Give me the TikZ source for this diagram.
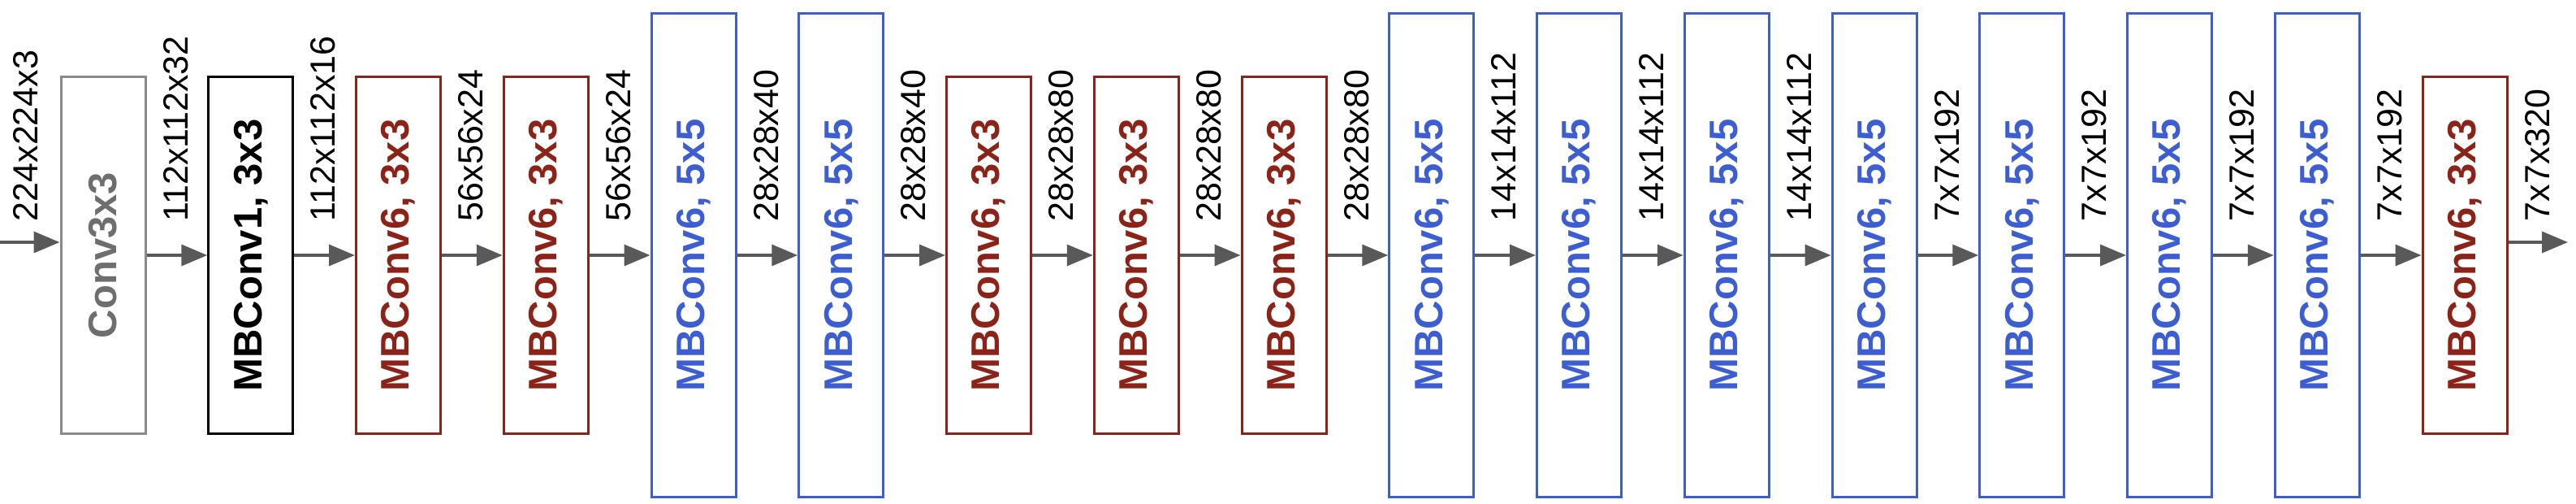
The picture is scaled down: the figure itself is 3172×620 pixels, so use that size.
\documentclass[tikz,border=0pt]{standalone}
\usepackage{fontspec}
\setmainfont{Liberation Sans}
\usetikzlibrary{arrows.meta}
\definecolor{redb}{HTML}{8B2318}
\definecolor{blueb}{HTML}{3C5ED2}
\definecolor{grayb}{HTML}{8A8A8A}
\definecolor{grayt}{HTML}{6E6E6E}
\definecolor{arrowc}{HTML}{595959}
\begin{document}
\begin{tikzpicture}[x=0.25pt,y=-0.25pt,
  box/.style={draw, line width=0.75pt, rotate=90, inner sep=0pt, minimum height=26pt,
    font=\bfseries\fontsize{12.25}{14}\selectfont},
  short/.style={box, minimum width=109.5pt},
  tall/.style={box, minimum width=148.75pt},
  gbox/.style={short, draw=grayb, text=grayt},
  kbox/.style={short, draw=black, text=black},
  rbox/.style={short, draw=redb, text=redb},
  bbox/.style={tall, draw=blueb, text=blueb},
  lbl/.style={rotate=90, anchor=base west, inner sep=0pt, font=\fontsize{10.75}{12}\selectfont},
  arr/.style={draw=arrowc, line width=0.9pt, -{Triangle[length=8pt,width=6.5pt]}}]
\useasboundingbox (0,0) rectangle (3172,620);
% blocks
\node[gbox] (c0) at (127,314) {Conv3x3};
\node[kbox] (c1) at (308.75,314) {MBConv1, 3x3};
\node[rbox] (c2) at (490.5,314) {MBConv6, 3x3};
\node[rbox] (c3) at (672.25,314) {MBConv6, 3x3};
\node[bbox] (c4) at (854,314) {MBConv6, 5x5};
\node[bbox] (c5) at (1035.75,314) {MBConv6, 5x5};
\node[rbox] (c6) at (1217.5,314) {MBConv6, 3x3};
\node[rbox] (c7) at (1399.25,314) {MBConv6, 3x3};
\node[rbox] (c8) at (1581,314) {MBConv6, 3x3};
\node[bbox] (c9) at (1762.75,314) {MBConv6, 5x5};
\node[bbox] (c10) at (1944.5,314) {MBConv6, 5x5};
\node[bbox] (c11) at (2126.25,314) {MBConv6, 5x5};
\node[bbox] (c12) at (2308,314) {MBConv6, 5x5};
\node[bbox] (c13) at (2489.75,314) {MBConv6, 5x5};
\node[bbox] (c14) at (2671.5,314) {MBConv6, 5x5};
\node[bbox] (c15) at (2853.25,314) {MBConv6, 5x5};
\node[rbox] (c16) at (3035,314) {MBConv6, 3x3};
% labels
\node[lbl] (l0) at (47,273) {224x224x3};
\node[lbl] (l1) at (231,273) {112x112x32};
\node[lbl] (l2) at (412.75,273) {112x112x16};
\node[lbl] (l3) at (594.5,273) {56x56x24};
\node[lbl] (l4) at (776.25,273) {56x56x24};
\node[lbl] (l5) at (958,273) {28x28x40};
\node[lbl] (l6) at (1139.75,273) {28x28x40};
\node[lbl] (l7) at (1321.5,273) {28x28x80};
\node[lbl] (l8) at (1503.25,273) {28x28x80};
\node[lbl] (l9) at (1685,273) {28x28x80};
\node[lbl] (l10) at (1866.75,273) {14x14x112};
\node[lbl] (l11) at (2048.5,273) {14x14x112};
\node[lbl] (l12) at (2230.25,273) {14x14x112};
\node[lbl] (l13) at (2412,273) {7x7x192};
\node[lbl] (l14) at (2593.75,273) {7x7x192};
\node[lbl] (l15) at (2775.5,273) {7x7x192};
\node[lbl] (l16) at (2957.25,273) {7x7x192};
\node[lbl] (l17) at (3139,273) {7x7x320};
% connectors
\coordinate (in) at (0,298);
\coordinate (out) at (3162,298);
\draw[arr] (in) -- (in -| c0.north);
\draw[arr] (c0) -- (c1);
\draw[arr] (c1) -- (c2);
\draw[arr] (c2) -- (c3);
\draw[arr] (c3) -- (c4);
\draw[arr] (c4) -- (c5);
\draw[arr] (c5) -- (c6);
\draw[arr] (c6) -- (c7);
\draw[arr] (c7) -- (c8);
\draw[arr] (c8) -- (c9);
\draw[arr] (c9) -- (c10);
\draw[arr] (c10) -- (c11);
\draw[arr] (c11) -- (c12);
\draw[arr] (c12) -- (c13);
\draw[arr] (c13) -- (c14);
\draw[arr] (c14) -- (c15);
\draw[arr] (c15) -- (c16);
\draw[arr] (out -| c16.south) -- (out);
\end{tikzpicture}
\end{document}
